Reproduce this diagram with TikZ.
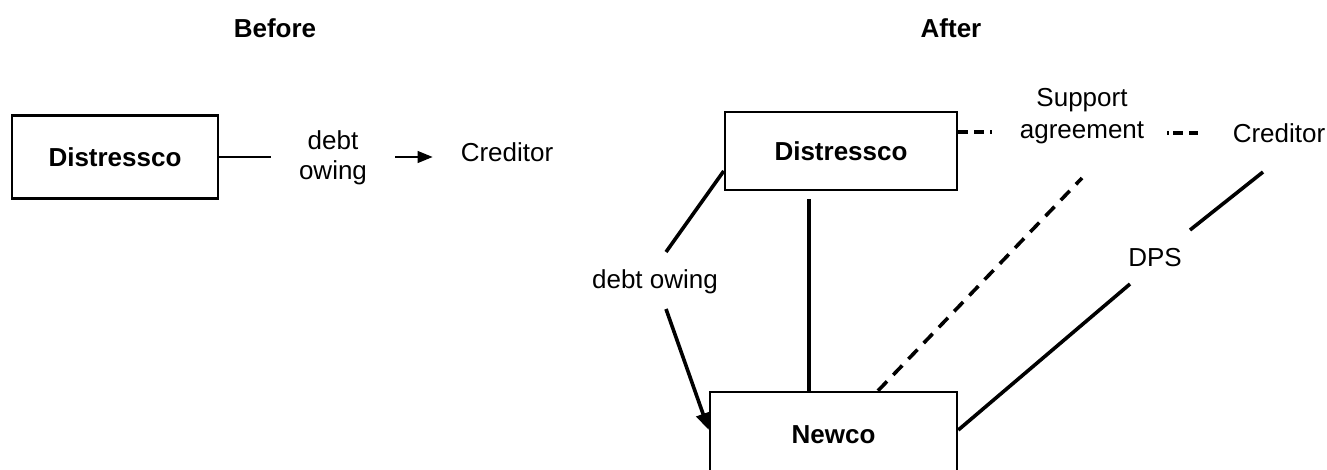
\documentclass[tikz,border=0pt]{standalone}
\usepackage{fontspec}
\setmainfont{Liberation Sans}
\usetikzlibrary{arrows.meta,calc}
\begin{document}
\begin{tikzpicture}[x=1pt,y=-1pt,
  every node/.style={font=\fontsize{26}{26}\selectfont, inner sep=0pt},
  box/.style={draw, line width=2.5pt, font=\fontsize{26}{26}\selectfont\bfseries},
  head/.style={font=\fontsize{26}{26}\selectfont\bfseries},
  lbl/.style={align=center},
  thinline/.style={line width=1.3pt},
  thickline/.style={line width=3.6pt},
  dashh/.style={line width=3.6pt, dash pattern=on 10pt off 6pt},
  dashd/.style={line width=3.6pt, dash pattern=on 13pt off 9pt},
]
\useasboundingbox (0,0) rectangle (1327,470);

% headings
\node[head] (before) at (275,28) {Before};
\node[head] (after) at (951,28) {After};

% Before
\node[box, minimum width=206pt, minimum height=83pt] (d1) at (115,157) {Distressco};
\node[lbl, inner xsep=28pt, font=\fontsize{26}{30}\selectfont] (l1) at (333,158) {debt\\owing};
\node (c1) at (507,152) {Creditor};
\draw[thinline] (d1.east) -- (d1.east -| l1.west);
\draw[thinline, -{Triangle[length=15pt,width=12pt]}, shorten >=28pt] (d1.east -| l1.east) -- (d1.east -| c1.west);

% After
\node[box, minimum width=232pt, minimum height=78pt] (d2) at (841,151) {Distressco};
\node[box, minimum width=247pt, minimum height=86pt] (n) at (833.5,435) {Newco};
\node[lbl, font=\fontsize{26}{32}\selectfont] (sa) at (1082,116) {Support\\agreement};
\node (c2) at (1279,133) {Creditor};
\node (dps) at (1155,258) {DPS};
\node (l2) at (655,282) {debt owing};

% support agreement dashes
\draw[dashh, shorten >=28pt] ([yshift=19pt]d2.east) -- ([yshift=19pt]d2.east -| sa.west);
\draw[line width=3.6pt, dash pattern=on 2pt off 4pt on 10pt off 6pt on 10pt off 200pt, shorten <=23pt, shorten >=35pt]
  (sa.east |- c2.west) -- (c2.west);

% Distressco -- Newco vertical
\draw[thickline] ([xshift=-32pt,yshift=-8pt]d2.south) -- ([xshift=-24.5pt]n.north);

% debt owing
\draw[thickline] ([yshift=-20pt]d2.west) -- ([shift={(11,-30)}]l2.center);
\draw[thickline, -{Triangle[length=17pt,width=14pt]}] ([shift={(11,27)}]l2.center) -- ([yshift=5pt]n.west);

% support agreement dashed diagonal
\draw[dashd] ([xshift=44.5pt]n.north) -- ([shift={(0,62)}]sa.center);

% DPS
\draw[thickline] ([yshift=5pt]n.east) -- ([shift={(-25,26)}]dps.center);
\draw[thickline] ([shift={(35,-28)}]dps.center) -- ([shift={(-16,39)}]c2.center);
\end{tikzpicture}
\end{document}
